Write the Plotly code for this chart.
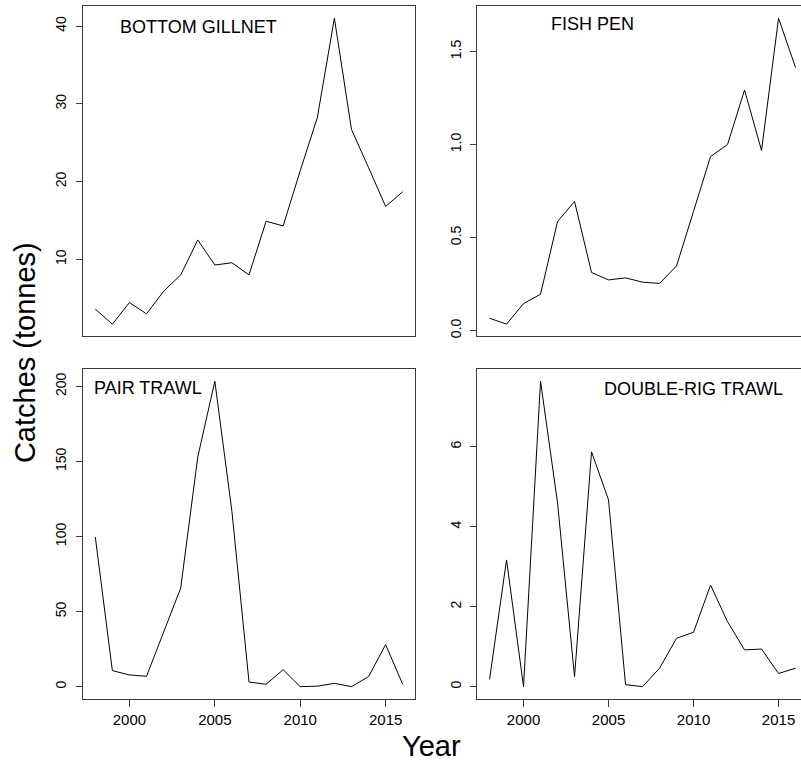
import plotly.graph_objects as go

years = list(range(1998, 2017))

bottom_gillnet = [3.6, 1.67, 4.45, 3.0, 5.9, 8.0, 12.5, 9.27, 9.57, 8.0, 14.9, 14.3,
                  21.4, 28.2, 41.0, 26.7, 21.8, 16.8, 18.7]
fish_pen = [0.066, 0.034, 0.145, 0.195, 0.586, 0.694, 0.312, 0.272, 0.283, 0.26, 0.253,
            0.347, 0.641, 0.935, 1.0, 1.293, 0.968, 1.679, 1.414]
pair_trawl = [99.7, 10.7, 7.8, 6.9, 36.3, 65.7, 153.0, 203.5, 116.8, 3.1, 1.6, 11.3,
              0.0, 0.3, 2.2, 0.0, 6.7, 28.0, 1.6]
double_rig_trawl = [0.18, 3.17, 0.0, 7.64, 4.6, 0.25, 5.875, 4.67, 0.05, 0.0, 0.46, 1.21,
                    1.36, 2.54, 1.625, 0.92, 0.94, 0.33, 0.46]

panel_names = ["BOTTOM GILLNET", "FISH PEN", "PAIR TRAWL", "DOUBLE-RIG TRAWL"]
y_ticks = [[10, 20, 30, 40], [0, 0.5, 1.0, 1.5], [0, 50, 100, 150, 200], [0, 2, 4, 6]]
y_ticktext = [["10", "20", "30", "40"], ["0.0", "0.5", "1.0", "1.5"],
              ["0", "50", "100", "150", "200"], ["0", "2", "4", "6"]]
x_ticks = [2000, 2005, 2010, 2015]

W, H = 801, 765
FONT = "Liberation Sans, Arial, sans-serif"
AX = "#3a3a3a"

def rlim(v):
    lo, hi = min(v), max(v)
    r = hi - lo
    return [lo - 0.04 * r, hi + 0.04 * r]

# panel boxes in pixels (left, right, top, bottom)
boxes = [(83, 415, 6, 337.3), (477.3, 801, 6, 337.3),
         (83, 415, 370, 700.7), (477.3, 801, 370, 700.7)]
xr_left = [1997.28, 2016.72]
xr_right = [1997.28, 1997.28 + (801 - 477.3) / 17.0]

series = [bottom_gillnet, fish_pen, pair_trawl, double_rig_trawl]

fig = go.Figure()
for i, (vals, box) in enumerate(zip(series, boxes)):
    n = i + 1
    xa = "x" if n == 1 else f"x{n}"
    ya = "y" if n == 1 else f"y{n}"
    fig.add_trace(go.Scatter(x=years, y=vals, mode="lines", xaxis=xa, yaxis=ya,
                             line=dict(color="black", width=1), showlegend=False,
                             hoverinfo="skip"))
    l, r, t, b = box
    is_bottom = i >= 2
    is_right = i % 2 == 1
    xkey = "xaxis" if n == 1 else f"xaxis{n}"
    ykey = "yaxis" if n == 1 else f"yaxis{n}"
    fig.layout[xkey] = dict(
        domain=[l / W, r / W], anchor=ya,
        range=xr_right if is_right else xr_left,
        showgrid=False, zeroline=False, showline=True, mirror=True,
        linecolor=AX, linewidth=1,
        tickmode="array", tickvals=x_ticks if is_bottom else [],
        ticks="outside" if is_bottom else "", ticklen=7, tickcolor=AX,
        showticklabels=is_bottom,
        tickfont=dict(family=FONT, size=15, color="black"),
    )
    fig.layout[ykey] = dict(
        domain=[1 - b / H, 1 - t / H], anchor=xa,
        range=rlim(vals),
        showgrid=False, zeroline=False, showline=True, mirror=not is_right,
        linecolor=AX, linewidth=1,
        tickmode="array", tickvals=y_ticks[i], ticktext=y_ticktext[i],
        ticks="outside", ticklen=6, tickcolor=AX, tickangle=-90,
        tickfont=dict(family=FONT, size=14, color="black"),
        ticklabelstandoff=4,
    )

label_pos = [(118, 27), (549, 24), (91.7, 389), (601.7, 390)]
for name, (px, py) in zip(panel_names, label_pos):
    fig.add_annotation(text=name, x=px / W, y=1 - py / H, xref="paper", yref="paper",
                       xanchor="left", yanchor="middle", showarrow=False,
                       font=dict(family=FONT, size=18, color="black"))

fig.add_annotation(text="Catches (tonnes)", x=25 / W, y=1 - 354 / H, xref="paper",
                   yref="paper", textangle=-90, showarrow=False,
                   xanchor="center", yanchor="middle",
                   font=dict(family=FONT, size=29, color="black"))
fig.add_annotation(text="Year", x=431 / W, y=1 - 748 / H, xref="paper", yref="paper",
                   showarrow=False, xanchor="center", yanchor="middle",
                   font=dict(family=FONT, size=29, color="black"))

fig.update_layout(width=W, height=H, margin=dict(l=0, r=0, t=0, b=0),
                  paper_bgcolor="white", plot_bgcolor="white")

fig.write_html("out.html")
